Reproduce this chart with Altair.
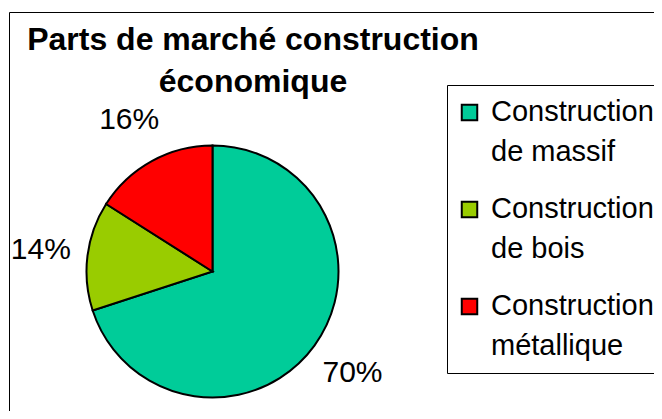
import altair as alt
import pandas as pd

# ---- data ----
categories = ["Construction de massif", "Construction de bois", "Construction métallique"]
shares = [70, 14, 16]
colors = ["#00CC99", "#99CC00", "#FF0000"]
title_lines = ["Parts de marché construction", "économique"]

df = pd.DataFrame({
    "categorie": categories,
    "part": shares,
    "ordre": list(range(len(categories))),
})

W, H = 645, 399
CX, CY = 203.5, 259.5
FONT = "Liberation Sans"

color_scale = alt.Scale(domain=categories, range=colors)

# symbol square of ~16px drawn above its anchor so it sits beside the first label line
legend = alt.Legend(
    title=None,
    orient="none",
    legendX=438,
    legendY=73,
    padding=12,
    strokeColor="black",
    fillColor="white",
    symbolType="M-0.348,-0.708H0.348V-0.012H-0.348Z",
    symbolSize=1980,
    symbolStrokeColor="black",
    symbolStrokeWidth=2,
    symbolOffset={"expr": "-13"},
    labelFont=FONT,
    labelFontSize=29,
    labelColor="black",
    labelBaseline="alphabetic",
    labelOffset={"expr": "-2"},
    labelLimit=400,
    labelExpr="[slice(datum.label, 0, indexof(datum.label, ' ')), slice(datum.label, indexof(datum.label, ' ') + 1)]",
    rowPadding=27,
)

base = alt.Chart(df).encode(
    theta=alt.Theta("part:Q", stack=True),
    order=alt.Order("ordre:Q"),
)

pie = base.mark_arc(outerRadius=126, stroke="black", strokeWidth=2).encode(
    x=alt.value(CX),
    y=alt.value(CY),
    color=alt.Color("categorie:N", scale=color_scale, legend=legend),
)

labels = base.transform_calculate(txt="datum.part + '%'").mark_text(
    radius=173, fontSize=30, font=FONT, color="black"
).encode(
    x=alt.value(CX),
    y=alt.value(CY),
    text="txt:N",
)

frame = alt.Chart(pd.DataFrame({"cadre": [0]})).mark_rect(
    fill="transparent", stroke="black", strokeWidth=1
).encode(
    x=alt.value(0.5), y=alt.value(0.5), x2=alt.value(W + 20), y2=alt.value(H + 20)
)

chart = alt.layer(frame, pie, labels).properties(
    width=W,
    height=H,
    autosize=alt.AutoSizeParams(type="none"),
    padding={"left": 1, "top": 4, "right": 0, "bottom": 0},
    background="white",
    title=alt.TitleParams(
        text=title_lines,
        font=FONT,
        fontSize=32,
        fontWeight="bold",
        color="black",
        anchor="start",
        frame="group",
        align="center",
        dx=244,
        offset=-112,
        baseline="alphabetic",
        lineHeight=42,
    ),
).configure(
    style={"guide-label": {"lineHeight": 40}},
    view=alt.ViewConfig(strokeWidth=0),
)

chart.save("out.html", embed_options={"renderer": "svg", "actions": False})
